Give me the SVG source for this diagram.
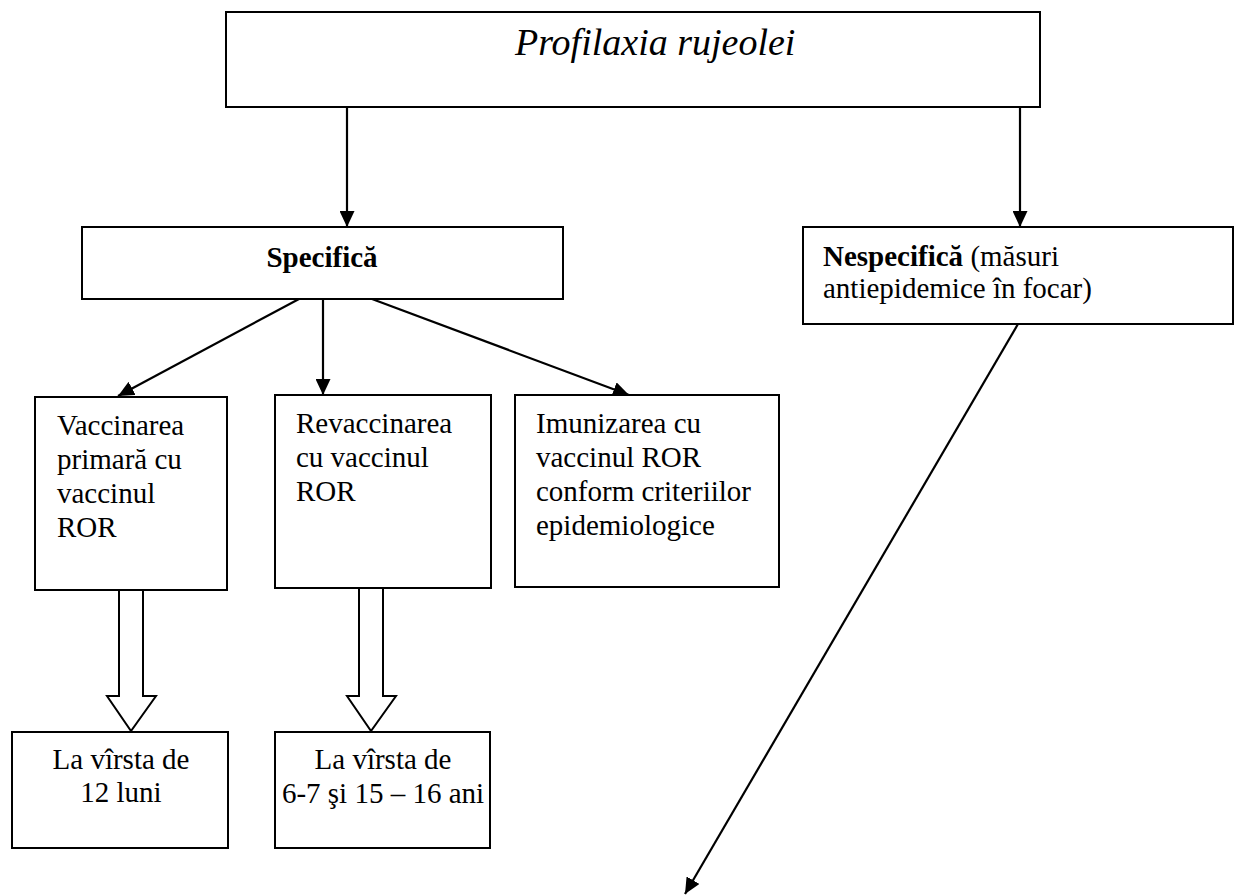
<svg xmlns="http://www.w3.org/2000/svg" width="1236" height="895" viewBox="0 0 1236 895">
<style>
.box{fill:#fff;stroke:#000;stroke-width:2}
.t{font-family:"Liberation Serif","Times New Roman",serif;font-size:29px;fill:#000}
.b{font-weight:bold}
.c{text-anchor:middle}
.ln{stroke:#000;stroke-width:2.2;fill:none}
.blk{fill:#fff;stroke:#000;stroke-width:2}
</style>
<defs>
<marker id="ah" markerUnits="userSpaceOnUse" markerWidth="17" markerHeight="15" refX="16" refY="7.5" orient="auto">
<path d="M0,0 L16,7.5 L0,15 Z" fill="#000"/>
</marker>
</defs>
<rect width="1236" height="895" fill="#fff"/>
<g id="connectors">
<line class="ln" x1="347" y1="107" x2="347" y2="227" marker-end="url(#ah)"/>
<line class="ln" x1="1020" y1="107" x2="1020" y2="227" marker-end="url(#ah)"/>
<line class="ln" x1="299" y1="299" x2="118" y2="396" marker-end="url(#ah)"/>
<line class="ln" x1="323" y1="299" x2="323" y2="395" marker-end="url(#ah)"/>
<line class="ln" x1="372" y1="299" x2="629" y2="395" marker-end="url(#ah)"/>
<line class="ln" x1="1018" y1="324" x2="685" y2="894" marker-end="url(#ah)"/>
<polygon class="blk" points="119,590 143,590 143,696 156,696 131,731 107,696 119,696"/>
<polygon class="blk" points="359,588 383,588 383,696 396,696 371,731 347,696 359,696"/>
</g>
<g id="n-title">
<rect class="box" x="226" y="12" width="814" height="95"/>
<text class="t" x="515" y="55" style="font-style:italic;font-size:38px">Profilaxia rujeolei</text>
</g>
<g id="n-specifica">
<rect class="box" x="82" y="227" width="481" height="72"/>
<text class="t b c" x="322" y="267">Specifică</text>
</g>
<g id="n-nespecifica">
<rect class="box" x="803" y="227" width="430" height="97"/>
<text class="t" x="823" y="266"><tspan class="b">Nespecifică</tspan> (măsuri</text>
<text class="t" x="823" y="298">antiepidemice în focar)</text>
</g>
<g id="n-vaccinarea">
<rect class="box" x="35" y="397" width="192" height="193"/>
<text class="t" x="57" y="435">Vaccinarea</text>
<text class="t" x="57" y="469">primară cu</text>
<text class="t" x="57" y="503">vaccinul</text>
<text class="t" x="57" y="537">ROR</text>
</g>
<g id="n-revaccinarea">
<rect class="box" x="275" y="395" width="216" height="193"/>
<text class="t" x="296" y="433">Revaccinarea</text>
<text class="t" x="296" y="467">cu vaccinul</text>
<text class="t" x="296" y="501">ROR</text>
</g>
<g id="n-imunizarea">
<rect class="box" x="515" y="395" width="264" height="192"/>
<text class="t" x="536" y="433">Imunizarea cu</text>
<text class="t" x="536" y="467">vaccinul ROR</text>
<text class="t" x="536" y="501">conform criteriilor</text>
<text class="t" x="536" y="535">epidemiologice</text>
</g>
<g id="n-12luni">
<rect class="box" x="12" y="732" width="216" height="116"/>
<text class="t c" x="121" y="769">La vîrsta de</text>
<text class="t c" x="121" y="802">12 luni</text>
</g>
<g id="n-6-7">
<rect class="box" x="275" y="732" width="215" height="116"/>
<text class="t c" x="383" y="769">La vîrsta de</text>
<text class="t c" x="383" y="803">6-7 şi 15 – 16 ani</text>
</g>
</svg>
